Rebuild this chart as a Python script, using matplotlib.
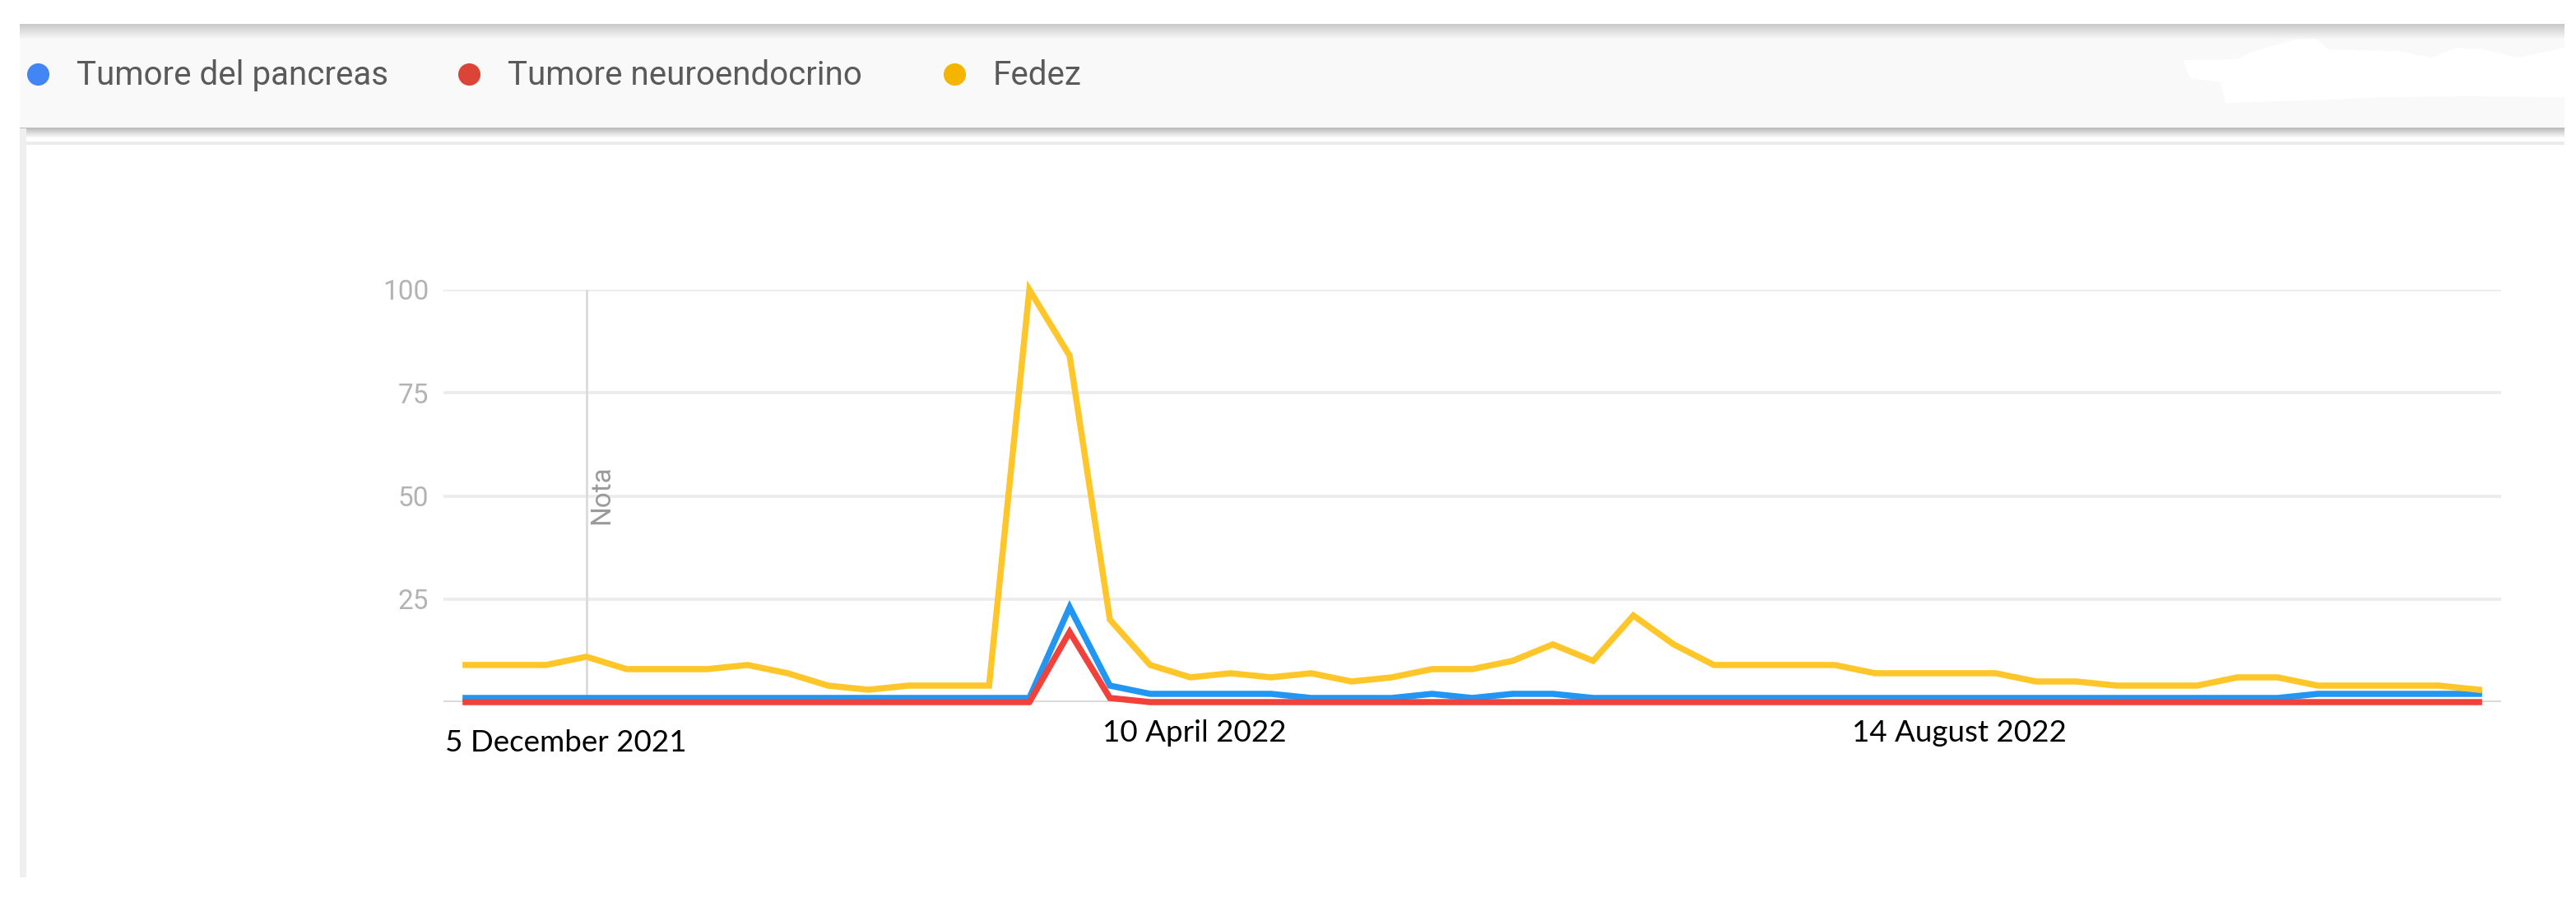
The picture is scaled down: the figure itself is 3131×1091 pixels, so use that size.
import matplotlib
matplotlib.use('Agg')
import matplotlib.pyplot as plt
import matplotlib.transforms as mtransforms
from matplotlib.patches import Rectangle, Polygon
import numpy as np

# Weekly search interest (Google Trends style), 5 Dec 2021 -> Nov 2022
pancreas = [1, 1, 1, 1, 1, 1, 1, 1, 1, 1, 1, 1, 1, 1, 1, 23, 4, 2, 2, 2,
            2, 1, 1, 1, 2, 1, 2, 2, 1, 1, 1, 1, 1, 1, 1, 1, 1, 1, 1, 1,
            1, 1, 1, 1, 1, 1, 2, 2, 2, 2, 2]
neuroendocrino = [0, 0, 0, 0, 0, 0, 0, 0, 0, 0, 0, 0, 0, 0, 0, 17, 1, 0, 0, 0,
                  0, 0, 0, 0, 0, 0, 0, 0, 0, 0, 0, 0, 0, 0, 0, 0, 0, 0, 0, 0,
                  0, 0, 0, 0, 0, 0, 0, 0, 0, 0, 0]
fedez = [9, 9, 9, 11, 8, 8, 8, 9, 7, 4, 3, 4, 4, 4, 100, 84, 20, 9, 6, 7,
         6, 7, 5, 6, 8, 8, 10, 14, 10, 21, 14, 9, 9, 9, 9, 7, 7, 7, 7, 5,
         5, 4, 4, 4, 6, 6, 4, 4, 4, 4, 3]

series_names = ['Tumore del pancreas', 'Tumore neuroendocrino', 'Fedez']
line_colors = ['#2196F3', '#F2413A', '#FFC629']
dot_colors = ['#4285F4', '#DB4437', '#F4B400']

grid_values = [0, 25, 50, 75, 100]
y_labels = ['', '25', '50', '75', '100']
date_labels = ['5 December 2021', '10 April 2022', '14 August 2022']
date_pos = [-0.5, 18.1, 37.1]
note_week = 3

W, H = 3131, 1091
fig = plt.figure(figsize=(W / 100, H / 100), dpi=100)
fig.patch.set_facecolor('white')

# background layer in pixel coordinates (legend bar, panel borders)
bg = fig.add_axes([0, 0, 1, 1], zorder=0)
bg.set_xlim(0, W)
bg.set_ylim(H, 0)
bg.axis('off')

# legend bar with soft shadow
bg.add_patch(Rectangle((24, 30), 3093, 126, color='#f9f9f9', lw=0))
grad = np.linspace(0, 1, 20).reshape(-1, 1)
bg.imshow(grad, cmap=matplotlib.colors.LinearSegmentedColormap.from_list('g', ['#c9c9c9', '#f9f9f9']),
          extent=(24, 3117, 48, 29), aspect='auto', zorder=1)
bg.imshow(grad, cmap=matplotlib.colors.LinearSegmentedColormap.from_list('g2', ['#b9b9b9', '#ffffff']),
          extent=(24, 3117, 168, 155), aspect='auto', zorder=1)
# redacted white blob on the right of the bar
bg.add_patch(Polygon([(2653, 73), (2718, 72), (2740, 62), (2790, 48), (2815, 47),
                      (2830, 60), (2915, 62), (2955, 70), (2985, 58), (3020, 60),
                      (3060, 70), (3117, 58), (3117, 118), (3000, 117), (2900, 118),
                      (2810, 122), (2705, 125), (2700, 100), (2662, 95)],
                     closed=True, color='white', lw=0, zorder=2))
# panel borders
bg.add_patch(Rectangle((24, 156), 8, 910, color='#efefef', lw=0, zorder=1))
bg.add_patch(Rectangle((32, 172), 3085, 4, color='#ececec', lw=0, zorder=1))

# legend entries
legend_dots = [46, 570, 1160]
for name, col, x in zip(series_names, dot_colors, legend_dots):
    bg.scatter([x], [90], s=380, color=col, lw=0, zorder=3)
    bg.text(x + 47, 103, name, fontsize=29, family='Roboto', color='#5a5a5a',
            va='baseline', ha='left', zorder=3)

# main chart
ax = fig.add_axes([539 / W, 1 - 853 / H, (3040 - 539) / W, 501 / H], zorder=2)
ax.patch.set_alpha(0)
weeks = np.arange(len(fedez))

for vals, col in zip([pancreas, neuroendocrino, fedez], line_colors):
    ax.plot(weeks, vals, color=col, lw=5.4, clip_on=False, solid_joinstyle='miter', zorder=3)

ax.set_xlim(-0.55, 50.55)
ax.set_ylim(0, 100)
ax.set_yticks(grid_values)
ax.set_yticklabels(y_labels)
ax.set_xticks([])
for s in ax.spines.values():
    s.set_visible(False)
ax.tick_params(axis='y', length=0, pad=13, labelsize=24, labelcolor='#b3b3b3')
for lbl in ax.get_yticklabels():
    lbl.set_family('Roboto')
for v in grid_values:
    ax.axhline(v, color='#d9d9d9' if v == 0 else '#ebebeb', lw=3.5 if v == 0 else 2.6, zorder=1)

# note marker
ax.axvline(note_week, ymin=0, ymax=1, color='#dddddd', lw=2.2, zorder=1)
ax.text(note_week + 0.37, 50.3, 'Nota', rotation=90, ha='center', va='center',
        fontsize=24, family='Roboto', color='#9a9a9a', zorder=2)

# hand-placed date labels below the axis
trans = mtransforms.blended_transform_factory(ax.transData, ax.transAxes)
for lbl, xp, ha, yp in zip(date_labels, date_pos, ['left', 'center', 'center'], [-0.098, -0.074, -0.074]):
    ax.text(xp, yp, lbl, transform=trans, ha=ha, va='center', fontsize=26.5,
            family='Lato', color='#000000')

fig.savefig('out.png', dpi=100)
